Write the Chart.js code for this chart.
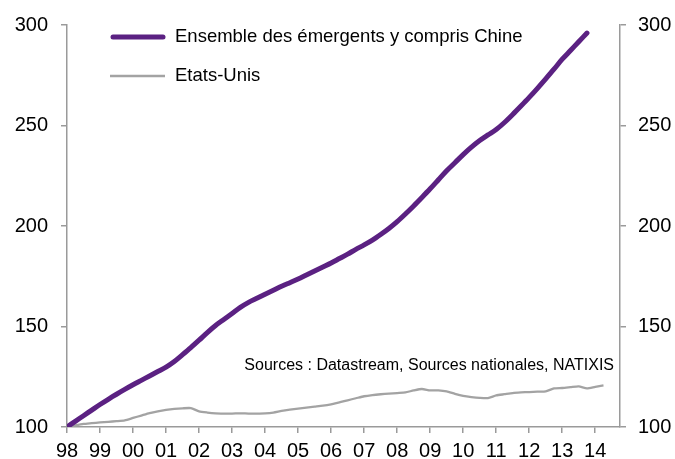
<!DOCTYPE html>
<html>
<head>
<meta charset="utf-8">
<script src="https://cdn.jsdelivr.net/npm/chart.js@4.4.1/dist/chart.umd.min.js"></script>
<style>
  html, body { margin: 0; padding: 0; background: #fff; }
</style>
</head>
<body>
<canvas id="mycanvas" width="675" height="459"></canvas>
<script>
// quarterly index, 1998 = 100
var firstYear = 1998;
var yearTicks = [1998, 1999, 2000, 2001, 2002, 2003, 2004, 2005, 2006, 2007, 2008, 2009, 2010, 2011, 2012, 2013, 2014];

var emergents = [
  100, 102.8, 105.6, 108.4,
  111.2, 113.8, 116.3, 118.7,
  121, 123.2, 125.4, 127.6,
  129.8, 132.6, 136, 139.5,
  143.2, 147, 150.5, 153.5,
  156.5, 159.5, 162, 164,
  166, 168, 170, 171.8,
  173.6, 175.6, 177.6, 179.6,
  181.6, 183.8, 186, 188.4,
  190.6, 193, 195.8, 198.8,
  202.2, 206, 210, 214.2,
  218.5, 223, 227.5, 231.5,
  235.5, 239.2, 242.5, 245.3,
  248, 251.5, 255.5, 259.7,
  264, 268.5, 273.2, 278,
  283, 287.3, 291.7, 296
];

var etatsUnis = [
  100, 100.8, 101.5, 101.9,
  102.3, 102.6, 102.9, 103.3,
  104.5, 105.7, 106.9, 107.8,
  108.5, 109, 109.3, 109.4,
  107.8, 107.2, 106.8, 106.7,
  106.7, 106.8, 106.7, 106.7,
  106.8, 107.2, 108, 108.6,
  109.1, 109.6, 110.1, 110.6,
  111.3, 112.2, 113.3, 114.3,
  115.3, 115.9, 116.3, 116.6,
  116.9, 117.2, 118.2, 118.9,
  118.2, 118.2, 117.7, 116.5,
  115.5, 114.9, 114.5, 114.4,
  115.7, 116.3, 116.9, 117.2,
  117.4, 117.6, 117.7, 119.2,
  119.4, 119.8, 120.2, 119.2,
  120, 120.7
];

var seriesNames = ["Ensemble des émergents y compris Chine", "Etats-Unis"];
var sourceNote = "Sources : Datastream, Sources nationales, NATIXIS";

var fontFamily = '"Liberation Sans", Arial, sans-serif';
var axisGrey = "#9a9a9a";

function toPoints(values) {
  return values.map(function (v, i) {
    return { x: firstYear + i / 4, y: v };
  });
}

// legend + source note drawn inside the plot area
var notesPlugin = {
  id: "notes",
  afterDraw: function (chart) {
    var ctx = chart.ctx;
    var area = chart.chartArea;
    ctx.save();
    ctx.textBaseline = "middle";
    ctx.textAlign = "left";
    ctx.font = "18.5px " + fontFamily;
    chart.data.datasets.forEach(function (ds, i) {
      var y = area.top + 12 + i * 39;
      ctx.strokeStyle = ds.borderColor;
      ctx.lineWidth = ds.borderWidth;
      ctx.lineCap = i === 0 ? "round" : "butt";
      ctx.beginPath();
      ctx.moveTo(area.left + (i === 0 ? 46 : 43), y);
      ctx.lineTo(area.left + (i === 0 ? 96 : 98), y);
      ctx.stroke();
      ctx.fillStyle = "#000";
      ctx.fillText(ds.label, area.left + 108, y);
    });
    ctx.font = "16px " + fontFamily;
    ctx.textAlign = "right";
    ctx.fillStyle = "#000";
    ctx.fillText(sourceNote, area.right - 6, area.top + 341);
    ctx.restore();
  }
};

var yScale = function (side, pad) {
  return {
    type: "linear",
    position: side,
    min: 100,
    max: 300,
    afterFit: function (scale) { scale.width = side === "left" ? 67 : 55; },
    ticks: {
      stepSize: 50,
      color: "#000",
      padding: pad,
      font: { family: fontFamily, size: 20 }
    },
    grid: {
      drawOnChartArea: false,
      drawTicks: true,
      tickLength: 6,
      color: axisGrey,
      lineWidth: 1.5
    },
    border: { display: true, color: axisGrey, width: 1.5 }
  };
};

var ctx = document.getElementById("mycanvas");
var LineGraph = new Chart(ctx, {
  type: "line",
  data: {
    datasets: [
      {
        label: seriesNames[0],
        data: toPoints(emergents),
        borderColor: "#5b2182",
        borderWidth: 5,
        borderCapStyle: "round",
        pointRadius: 0,
        tension: 0.3,
        fill: false,
        yAxisID: "y"
      },
      {
        label: seriesNames[1],
        data: toPoints(etatsUnis),
        borderColor: "#a3a3a3",
        borderWidth: 2.3,
        pointRadius: 0,
        tension: 0.2,
        fill: false,
        yAxisID: "y"
      }
    ]
  },
  options: {
    responsive: false,
    animation: false,
    layout: { padding: { top: 24, left: 0, right: 0, bottom: 0 } },
    plugins: {
      legend: { display: false },
      tooltip: { enabled: false }
    },
    scales: {
      x: {
        type: "linear",
        min: firstYear,
        max: 2014.75,
        afterFit: function (scale) { scale.height = 32; },
        afterBuildTicks: function (scale) {
          scale.ticks = yearTicks.map(function (v) { return { value: v }; });
        },
        ticks: {
          color: "#000",
          padding: 6,
          maxRotation: 0,
          autoSkip: false,
          font: { family: fontFamily, size: 20 },
          callback: function (v) { return String(v % 100).padStart(2, "0"); }
        },
        grid: {
          drawOnChartArea: false,
          drawTicks: true,
          tickLength: 6,
          color: axisGrey,
          lineWidth: 1.5
        },
        border: { display: true, color: axisGrey, width: 1.5 }
      },
      y: yScale("left", 13),
      y2: yScale("right", 12)
    }
  },
  plugins: [notesPlugin]
});
</script>
</body>
</html>
